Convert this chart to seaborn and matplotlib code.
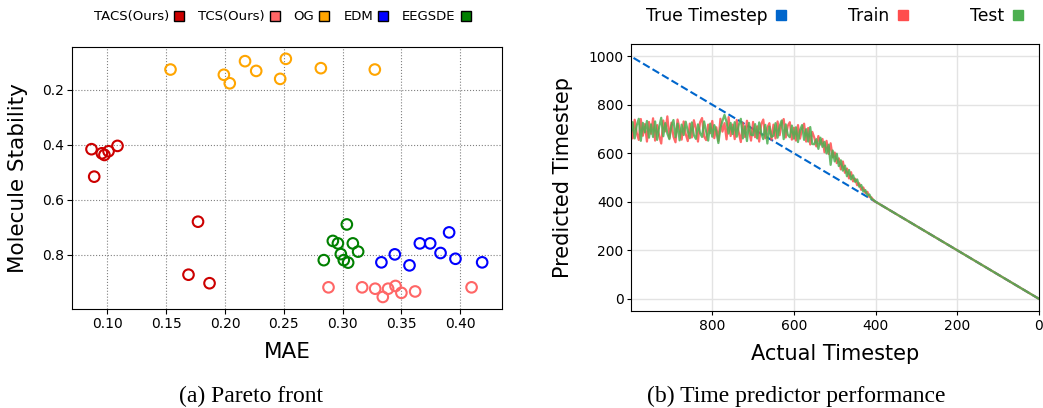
import matplotlib
matplotlib.use("Agg")
import matplotlib.pyplot as plt
import seaborn as sns
import pandas as pd
from matplotlib.lines import Line2D

# ---------------- Panel (a): Pareto front ----------------
method_names = ["TACS(Ours)", "TCS(Ours)", "OG", "EDM", "EEGSDE"]
method_colors = ["#cc0000", "#ff6666", "#ffa500", "#0000ff", "#008000"]

tacs_mae = [0.0864, 0.0952, 0.0974, 0.1009, 0.1085, 0.0887, 0.1770, 0.1689, 0.1868]
tacs_stab = [0.416, 0.431, 0.437, 0.4235, 0.404, 0.516, 0.680, 0.873, 0.904]
tcs_mae = [0.288, 0.3166, 0.3277, 0.3342, 0.3387, 0.345, 0.350, 0.3617, 0.4097]
tcs_stab = [0.919, 0.919, 0.924, 0.954, 0.924, 0.914, 0.939, 0.934, 0.919]
og_mae = [0.1536, 0.199, 0.204, 0.217, 0.2265, 0.2469, 0.2517, 0.2815, 0.3274]
og_stab = [0.126, 0.145, 0.176, 0.0955, 0.131, 0.160, 0.087, 0.121, 0.126]
edm_mae = [0.333, 0.3444, 0.3569, 0.3657, 0.3745, 0.3833, 0.3906, 0.396, 0.4187]
edm_stab = [0.828, 0.799, 0.839, 0.759, 0.759, 0.794, 0.719, 0.815, 0.828]
eegsde_mae = [0.284, 0.2917, 0.296, 0.3036, 0.3087, 0.3132, 0.2985, 0.301, 0.3047]
eegsde_stab = [0.820, 0.750, 0.759, 0.690, 0.759, 0.789, 0.798, 0.820, 0.829]

# ---------------- Panel (b): Time predictor ----------------
actual_t = [
    1000, 995, 990, 985, 980, 975, 970, 965, 960, 955,
    950, 945, 940, 935, 930, 925, 920, 915, 910, 905,
    900, 895, 890, 885, 880, 875, 870, 865, 860, 855,
    850, 845, 840, 835, 830, 825, 820, 815, 810, 805,
    800, 795, 790, 785, 780, 775, 770, 765, 760, 755,
    750, 745, 740, 735, 730, 725, 720, 715, 710, 705,
    700, 695, 690, 685, 680, 675, 670, 665, 660, 655,
    650, 645, 640, 635, 630, 625, 620, 615, 610, 605,
    600, 595, 590, 585, 580, 575, 570, 565, 560, 555,
    550, 545, 540, 535, 530, 525, 520, 515, 510, 505,
    500, 495, 490, 485, 480, 475, 470, 465, 460, 455,
    450, 445, 440, 435, 430, 425, 420, 415, 410, 405,
    400, 350, 300, 250, 200, 150, 100, 50, 0,
]
train_pred = [
    712, 661, 738, 683, 655, 741, 672, 720, 648, 729,
    680, 744, 652, 716, 671, 640, 735, 690, 752, 662,
    726, 668, 645, 739, 701, 656, 731, 679, 650, 722,
    665, 736, 700, 648, 727, 745, 669, 654, 718, 683,
    733, 662, 707, 651, 742, 689, 724, 657, 749, 671,
    718, 658, 737, 684, 646, 726, 667, 734, 693, 652,
    729, 666, 711, 648, 720, 739, 662, 706, 724, 655,
    718, 661, 731, 674, 722, 741, 665, 713, 728, 656,
    705, 652, 716, 660, 700, 722, 648, 704, 636, 688,
    664, 628, 671, 636, 659, 604, 651, 597, 641, 583,
    603, 559, 579, 533, 566, 519, 537, 496, 522, 484,
    495, 468, 476, 449, 459, 436, 441, 419, 418, 405,
    400, 350, 300, 250, 200, 150, 100, 50, 0,
]
test_pred = [
    674, 728, 661, 715, 742, 651, 725, 686, 733, 664,
    719, 667, 731, 655, 709, 746, 670, 724, 681, 658,
    713, 737, 666, 722, 653, 718, 675, 730, 692, 662,
    727, 674, 659, 719, 684, 667, 731, 690, 652, 722,
    668, 716, 690, 642, 705, 733, 758, 729, 681, 725,
    679, 728, 668, 717, 742, 661, 711, 650, 725, 676,
    674, 720, 661, 727, 683, 658, 717, 640, 710, 667,
    672, 724, 664, 711, 735, 658, 719, 676, 666, 714,
    660, 707, 646, 695, 716, 655, 699, 648, 708, 638,
    637, 658, 618, 664, 626, 647, 599, 635, 552, 611,
    566, 598, 547, 571, 528, 549, 505, 531, 492, 509,
    482, 492, 462, 469, 442, 448, 426, 430, 411, 408,
    400, 350, 300, 250, 200, 150, 100, 50, 0,
]
true_t = [1000, 0]
true_pred = [1000, 0]
series_names = ["True Timestep", "Train", "Test"]
series_colors = ["#0066cc", "#ff4d4d", "#4caf50"]

# ---------------- Figure ----------------
fig = plt.figure(figsize=(10.43, 4.08), dpi=100)
ax1 = fig.add_axes([0.069, 0.243, 0.412, 0.642])
ax2 = fig.add_axes([0.605, 0.238, 0.391, 0.654])

# Panel a
groups = [(tacs_mae, tacs_stab), (tcs_mae, tcs_stab), (og_mae, og_stab),
          (edm_mae, edm_stab), (eegsde_mae, eegsde_stab)]
for name, color, (xs, ys) in zip(method_names, method_colors, groups):
    df = pd.DataFrame({"MAE": xs, "Stability": ys})
    sns.scatterplot(data=df, x="MAE", y="Stability", ax=ax1, marker="o", s=58,
                    facecolor="none", edgecolor=color, linewidth=1.5)
ax1.invert_yaxis()
ax1.grid(True, linestyle=":", color="gray", linewidth=0.8)
ax1.set_axisbelow(True)
ax1.set_xticks([0.10, 0.15, 0.20, 0.25, 0.30, 0.35, 0.40])
ax1.set_yticks([0.2, 0.4, 0.6, 0.8])
ax1.tick_params(labelsize=10, length=3.5, pad=2.5)
ax1.set_xlabel("MAE", fontsize=15.5, labelpad=8)
ax1.set_ylabel("Molecule Stability", fontsize=15.5, labelpad=10)

h1 = [Line2D([], [], marker="s", linestyle="", markerfacecolor=c,
             markeredgecolor="black", markeredgewidth=1.0, markersize=7.5)
      for c in method_colors]
fig.legend(h1, method_names, loc="center", bbox_to_anchor=(0.271, 0.959),
           ncol=5, frameon=False, markerfirst=False, fontsize=9.5,
           columnspacing=1.0, handletextpad=0.3, handlelength=0.9)

# Panel b
ax2.grid(True, color="#e3e3e3", linewidth=1.0)
ax2.set_axisbelow(True)
sns.lineplot(x=true_t, y=true_pred, ax=ax2, color=series_colors[0],
             linestyle="--", linewidth=1.5)
long = pd.DataFrame({
    "t": actual_t + actual_t,
    "pred": train_pred + test_pred,
    "split": ["Train"] * len(actual_t) + ["Test"] * len(actual_t),
})
sns.lineplot(data=long, x="t", y="pred", hue="split", ax=ax2,
             palette={"Train": series_colors[1], "Test": series_colors[2]},
             linewidth=1.6, alpha=0.85, legend=False, estimator=None)
ax2.set_xlim(999, 0)
ax2.set_xticks([800, 600, 400, 200, 0])
ax2.set_yticks([0, 200, 400, 600, 800, 1000])
ax2.tick_params(labelsize=10, length=3, pad=2.5)
ax2.set_xlabel("Actual Timestep", fontsize=15, labelpad=8)
ax2.set_ylabel("Predicted Timestep", fontsize=15, labelpad=11)

h2 = [Line2D([], [], marker="s", linestyle="", markerfacecolor=c,
             markeredgecolor=c, markersize=7.5) for c in series_colors]
ax2.legend(h2, series_names, loc="center", bbox_to_anchor=(0.02, 1.056, 0.963, 0.1),
           mode="expand", ncol=3, frameon=False, markerfirst=False, fontsize=12.3,
           handletextpad=0.4, handlelength=0.8, borderaxespad=0)

# Captions
fig.text(0.241, 0.003, "(a) Pareto front", ha="center", va="bottom",
         family="Liberation Serif", fontsize=17)
fig.text(0.763, 0.003, "(b) Time predictor performance", ha="center", va="bottom",
         family="Liberation Serif", fontsize=17)

fig.savefig("out.png", dpi=100)
